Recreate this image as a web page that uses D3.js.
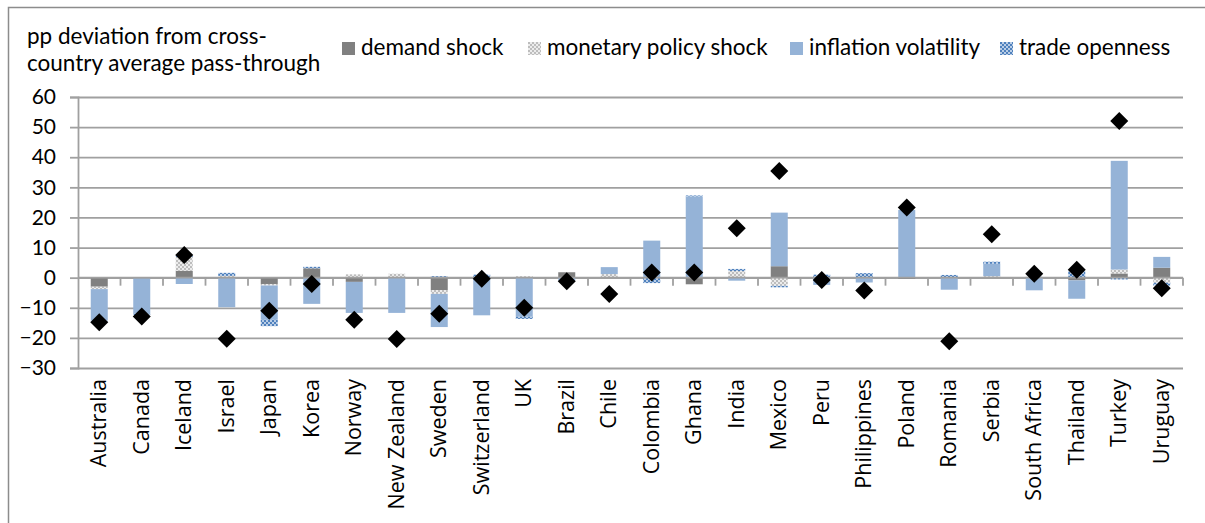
<!DOCTYPE html>
<html>
<head>
<meta charset="utf-8">
<script src="https://cdn.jsdelivr.net/npm/d3@7"></script>
<style>
  body { margin: 0; background: #fff; }
  svg text { font-family: Lato, "Open Sans", sans-serif; fill: #000; }
  .cat text { font-family: "Open Sans", sans-serif; }
</style>
</head>
<body>
<svg id="chart" width="1205" height="523"></svg>
<script>
// countries along the x axis
var countries = ["Australia", "Canada", "Iceland", "Israel", "Japan", "Korea", "Norway", "New Zealand",
  "Sweden", "Switzerland", "UK", "Brazil", "Chile", "Colombia", "Ghana", "India", "Mexico", "Peru",
  "Philippines", "Poland", "Romania", "Serbia", "South Africa", "Thailand", "Turkey", "Uruguay"];

// contributions, pp
var demandShock    = [-3.0, -0.2, 2.3, 0, -2.1, 3.1, -1.4, 0, -4.1, 0, 0, 1.8, 0, 0, -2.2, 0, 3.8, 0, 0, -0.4, 0, 0, 0, -0.9, 1.4, 3.3];
var monetaryShock  = [-0.8, 0, 4.6, 0.6, -0.5, 0, 1.1, 1.3, -1.3, 0, 0.5, 0, 1.2, 0, 0, 2.2, -2.7, 0, 0, 0, 0, 0.5, 0, 0, 1.3, -1.7];
var inflationVol   = [-10.4, -11.8, -2.1, -9.8, -11.4, -8.7, -10.3, -11.7, -11.0, -12.5, -13.0, -1.0, 2.3, 12.3, 27.0, -1.0, 17.8, -2.4, -1.6, 22.5, -4.0, 4.1, -4.2, -6.1, 36.1, 3.6];
var tradeOpenness  = [-0.5, -0.4, 0.4, 1.0, -2.1, 0.5, 0, 0, 0.5, 1.0, -0.7, 0, 0, -1.8, 0.3, 0.7, -0.5, 1.0, 1.5, 0, 0.9, 0.7, 0.3, 2.2, -0.6, -0.9];
// total deviation (diamonds)
var totalDev       = [-14.8, -12.9, 7.5, -20.3, -11.0, -2.1, -14.0, -20.4, -12.0, -0.4, -10.0, -1.2, -5.4, 1.7, 1.7, 16.4, 35.4, -0.8, -4.3, 23.3, -21.1, 14.4, 1.3, 2.6, 52.0, -3.5];

var yTicks = [-30, -20, -10, 0, 10, 20, 30, 40, 50, 60];
var seriesNames = ["demand shock", "monetary policy shock", "inflation volatility", "trade openness"];
var keys = ["demand", "monetary", "inflation", "trade"];

var rows = countries.map(function(c, i) {
  return { country: c, demand: demandShock[i], monetary: monetaryShock[i],
           inflation: inflationVol[i], trade: tradeOpenness[i], total: totalDev[i] };
});

// plot area (window.top is taken, so not "top")
var plotL = 78, plotR = 1183, plotT = 97, plotB = 368;
var gridCol = "#a0a0a0";
var svg = d3.select("#chart");

// fill patterns for the two dotted series
var defs = svg.append("defs");
function checker(id, bg, fg) {
  var p = defs.append("pattern").attr("id", id).attr("patternUnits", "userSpaceOnUse")
    .attr("width", 4).attr("height", 4);
  p.append("rect").attr("width", 4).attr("height", 4).attr("fill", bg);
  p.append("rect").attr("width", 2).attr("height", 2).attr("fill", fg);
  p.append("rect").attr("x", 2).attr("y", 2).attr("width", 2).attr("height", 2).attr("fill", fg);
}
checker("pMon", "#ececec", "#bdbdbd");
checker("pTrade", "#b9cde6", "#4f81bd");

var fills = { demand: "#808080", monetary: "url(#pMon)", inflation: "#95b3d7", trade: "url(#pTrade)" };
var legendFills = ["#808080", "url(#pMon)", "#95b3d7", "url(#pTrade)"];

// outer frame
svg.append("rect").attr("x", 8.5).attr("y", 7.5).attr("width", 1220).attr("height", 540)
  .attr("fill", "none").attr("stroke", "#8c8c8c").attr("stroke-width", 1.5);

var x = d3.scaleBand().domain(countries).range([plotL, plotR]);
var y = d3.scaleLinear().domain([-30, 60]).range([plotB, plotT]);

// gridlines
svg.append("g").attr("transform", "translate(" + plotL + ",0)")
  .call(d3.axisLeft(y).tickValues(yTicks).tickSize(-(plotR - plotL)).tickFormat(""))
  .call(function(g) {
    g.select(".domain").remove();
    g.selectAll("line").attr("stroke", gridCol).attr("stroke-width", 1.8);
  });

// y axis
svg.append("g").attr("transform", "translate(" + plotL + ",0)")
  .call(d3.axisLeft(y).tickValues(yTicks).tickSize(8).tickPadding(14))
  .call(function(g) {
    g.select(".domain").attr("stroke", gridCol).attr("stroke-width", 1.8);
    g.selectAll("line").attr("stroke", gridCol).attr("stroke-width", 1.8);
    g.selectAll("text").attr("font-size", 21).style("font-family", "Lato, sans-serif");
  });

// stacked bars
var stack = d3.stack().keys(keys).offset(d3.stackOffsetDiverging);
var layers = stack(rows);
var bw = x.bandwidth() * 0.4;

svg.append("g").selectAll("g").data(layers).join("g")
  .attr("fill", function(d) { return fills[d.key]; })
  .selectAll("rect").data(function(d) { return d; }).join("rect")
  .attr("x", function(d) { return x(d.data.country) + (x.bandwidth() - bw) / 2; })
  .attr("y", function(d) { return y(Math.max(d[0], d[1])); })
  .attr("width", bw)
  .attr("height", function(d) { return Math.abs(y(d[0]) - y(d[1])); });

// category axis at zero, ticks between categories
var zeroY = y(0);
svg.append("line").attr("x1", plotL).attr("x2", plotR).attr("y1", zeroY).attr("y2", zeroY)
  .attr("stroke", gridCol).attr("stroke-width", 1.8);
svg.append("g").selectAll("line").data(countries).join("line")
  .attr("x1", function(d) { return x(d) + x.bandwidth(); })
  .attr("x2", function(d) { return x(d) + x.bandwidth(); })
  .attr("y1", zeroY).attr("y2", zeroY + 8)
  .attr("stroke", gridCol).attr("stroke-width", 1.8);

// country labels
svg.append("g").attr("class", "cat").selectAll("text").data(countries).join("text")
  .attr("transform", function(d) { return "translate(" + (x(d) + x.bandwidth() / 2 + 7) + ",379) rotate(-90)"; })
  .attr("text-anchor", "end")
  .attr("font-size", 21.5)
  .text(function(d) { return d; });

// diamonds for the total
var diamond = { draw: function(ctx, size) {
  var r = Math.sqrt(size / 2);
  ctx.moveTo(0, -r); ctx.lineTo(r, 0); ctx.lineTo(0, r); ctx.lineTo(-r, 0); ctx.closePath();
} };
svg.append("g").selectAll("path").data(rows).join("path")
  .attr("transform", function(d) { return "translate(" + (x(d.country) + x.bandwidth() / 2) + "," + y(d.total) + ")"; })
  .attr("d", d3.symbol().type(diamond).size(2 * 9 * 9))
  .attr("fill", "#000");

// title
var title = svg.append("text").attr("x", 27).attr("y", 44).attr("font-size", 22.5);
title.append("tspan").attr("x", 27).text("pp deviation from cross-");
title.append("tspan").attr("x", 27).attr("dy", 27).text("country average pass-through");

// legend
var legendX = [342, 528, 790, 1000];
var leg = svg.append("g").selectAll("g").data(seriesNames).join("g")
  .attr("transform", function(d, i) { return "translate(" + legendX[i] + ",42)"; });
leg.append("rect").attr("width", 13).attr("height", 13)
  .attr("fill", function(d, i) { return legendFills[i]; });
leg.append("text").attr("x", 19).attr("y", 13).attr("font-size", 22.5)
  .text(function(d) { return d; });
</script>
</body>
</html>
